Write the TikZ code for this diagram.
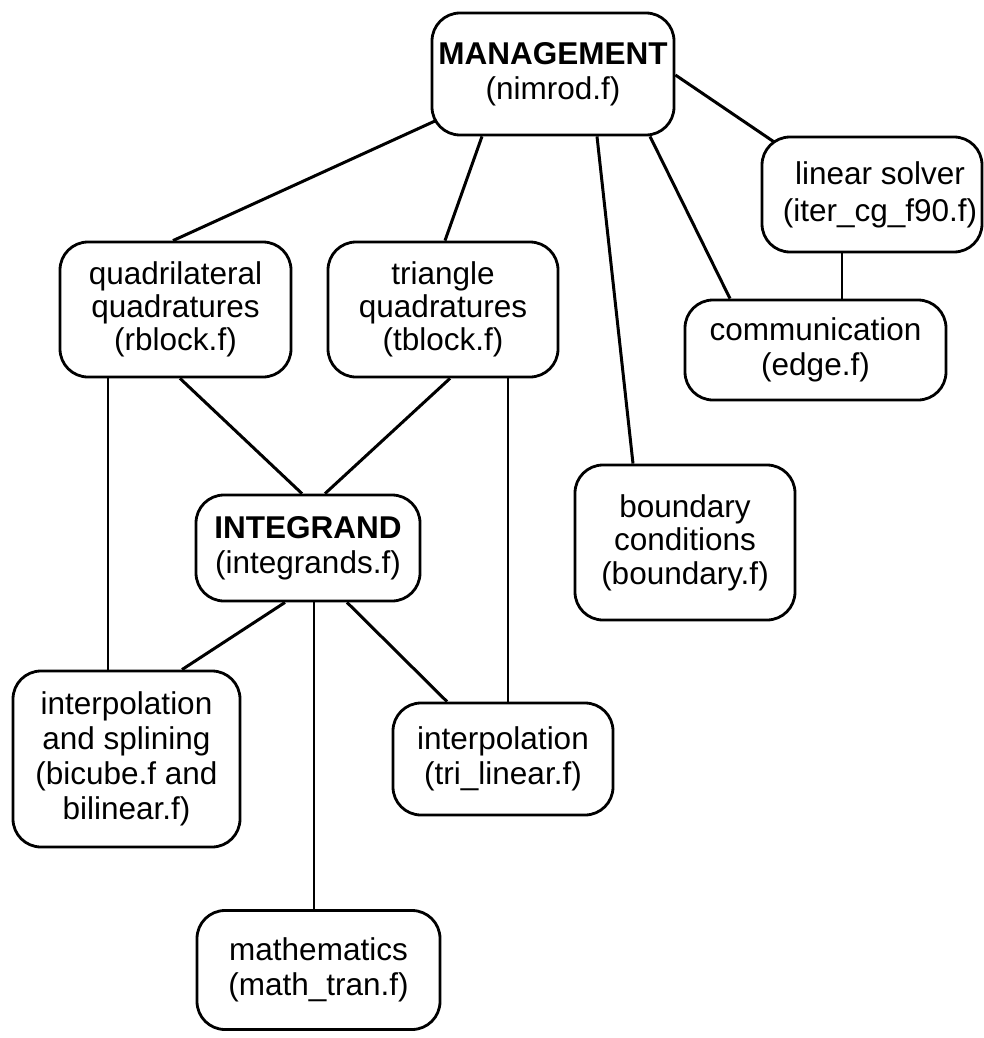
\documentclass[tikz,border=0pt]{standalone}
\usepackage{fontspec}
\setmainfont{Liberation Sans}
\usetikzlibrary{calc}
\begin{document}
\begin{tikzpicture}[x=0.5pt,y=-0.5pt,
  box/.style={draw, line width=1.4pt, rounded corners=14pt, fill=white, align=center, inner sep=0pt,
    font=\fontsize{15.75pt}{17.5pt}\selectfont},
  thicklink/.style={line width=1.5pt},
  thinlink/.style={line width=1pt}]
\useasboundingbox (0,0) rectangle (984,1038);

\node[box, minimum width=121pt, minimum height=61pt] (man) at (553,74) {\textbf{MANAGEMENT}\\(nimrod.f)};
\node[box, minimum width=110pt, minimum height=57.5pt, font=\fontsize{15.75pt}{18.5pt}\selectfont] (lin) at (872,194.5) {\hspace*{8pt}linear solver\\\hspace*{8pt}(iter\_cg\_f90.f)};
\node[box, minimum width=115.5pt, minimum height=67.5pt, font=\fontsize{15.75pt}{16.5pt}\selectfont] (quad) at (175.5,309.5) {quadrilateral\\quadratures\\(rblock.f)};
\node[box, minimum width=115pt, minimum height=67.5pt, font=\fontsize{15.75pt}{16.5pt}\selectfont] (tri) at (443,309.5) {triangle\\quadratures\\(tblock.f)};
\node[box, minimum width=130.5pt, minimum height=50pt] (comm) at (815.5,350) {communication\\(edge.f)};
\node[box, minimum width=110pt, minimum height=77.5pt, font=\fontsize{15.75pt}{16.8pt}\selectfont] (bound) at (685,542.5) {boundary\\conditions\\(boundary.f)};
\node[box, minimum width=112pt, minimum height=53pt] (integ) at (308,548) {\textbf{INTEGRAND}\\(integrands.f)};
\node[box, minimum width=113.5pt, minimum height=88pt] (splin) at (126.5,759) {interpolation\\and splining\\(bicube.f and\\bilinear.f)};
\node[box, minimum width=110pt, minimum height=56pt] (tril) at (503,759) {interpolation\\(tri\_linear.f)};
\node[box, minimum width=121.5pt, minimum height=59.5pt] (math) at (318.5,970) {mathematics\\(math\_tran.f)};

\draw[thicklink] ($(man.center)+(-118,47)$) -- ($(quad.north)+(-2.5,0)$);
\draw[thicklink] ($(man.south)+(-71,0)$) -- ($(tri.north)+(2,0)$);
\draw[thicklink] ($(man.south)+(44,0)$) -- ($(bound.north)+(-52,0)$);
\draw[thicklink] ($(man.south)+(97,0)$) -- ($(comm.north)+(-85.5,0)$);
\draw[thicklink] ($(man.east)+(0,1)$) -- ($(lin.north west)+(13,6)$);
\draw[thinlink] ($(lin.south)+(-30,0)$) -- ($(comm.north)+(26.5,0)$);
\draw[thicklink] ($(quad.south)+(4.5,0)$) -- ($(integ.north)+(-6,0)$);
\draw[thicklink] ($(tri.south)+(7,0)$) -- ($(integ.north)+(17,0)$);
\draw[thinlink] ($(quad.south)+(-67.5,0)$) -- ($(splin.north)+(-18.5,0)$);
\draw[thinlink] ($(tri.south)+(65,0)$) -- ($(tril.north)+(5,0)$);
\draw[thicklink] ($(integ.south)+(-23,0)$) -- ($(splin.north)+(55.5,0)$);
\draw[thicklink] ($(integ.south)+(39,0)$) -- ($(tril.north)+(-56,0)$);
\draw[thinlink] ($(integ.south)+(6,0)$) -- ($(math.north)+(-4.5,0)$);
\end{tikzpicture}
\end{document}
